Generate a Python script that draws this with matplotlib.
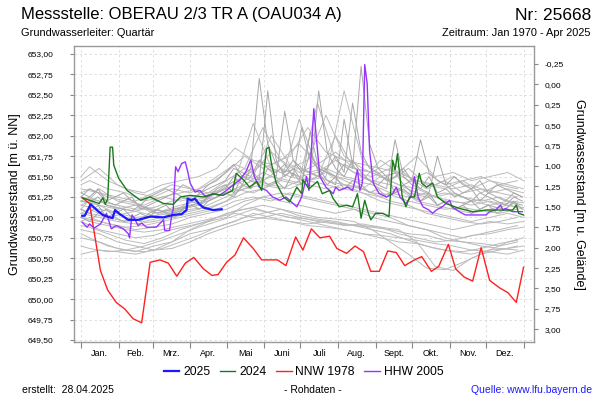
import matplotlib
matplotlib.use("Agg")
import matplotlib.pyplot as plt
import numpy as np

plt.rcParams['font.family'] = ['Liberation Sans', 'DejaVu Sans']

# ---- data (day of year, level in m above NN) ----
months = ["Jan.", "Feb.", "Mrz.", "Apr.", "Mai", "Juni", "Juli", "Aug.",
          "Sept.", "Okt.", "Nov.", "Dez."]
month_starts = [0, 31, 59, 90, 120, 151, 181, 212, 243, 273, 304, 334, 365]

ground_level = 652.63

days_2025 = [1, 3, 8, 13, 18, 26, 28, 32, 39, 47, 57, 68, 76, 83, 87, 88, 91, 94, 97, 101, 109, 116]
vals_2025 = [651.02, 651.02, 651.16, 651.09, 651.03, 650.99, 651.09, 651.04, 650.97, 650.97, 651.01,
             651.00, 651.03, 651.04, 651.09, 651.23, 651.21, 651.23, 651.17, 651.12, 651.09, 651.10]

days_2024 = [1, 7, 15, 18, 20, 22, 24, 26, 27, 31, 38, 49, 57, 68, 76, 82, 90, 101, 109, 117,
             125, 128, 134, 139, 145, 149, 153, 155, 157, 161, 167, 172, 178, 182, 183, 188, 195,
             199, 205, 208, 213, 219, 224, 228, 231, 234, 237, 239, 243, 249, 254, 257, 259, 261,
             263, 265, 268, 271, 275, 279, 281, 285, 290, 294, 301, 312, 323, 334, 345, 356, 359,
             361, 365]
vals_2024 = [651.24, 651.21, 651.17, 651.24, 651.16, 651.23, 651.86, 651.86, 651.64, 651.48,
             651.33, 651.21, 651.25, 651.17, 651.16, 651.25, 651.27, 651.25, 651.29, 651.27,
             651.33, 651.54, 651.46, 651.37, 651.44, 651.33, 651.84, 651.86, 651.66, 651.42,
             651.25, 651.19, 651.37, 651.29, 651.46, 651.35, 651.44, 651.29, 651.33, 651.23,
             651.13, 651.15, 651.13, 651.29, 650.99, 651.21, 651.05, 650.97, 651.05, 651.05,
             651.01, 651.70, 651.58, 651.78, 651.50, 651.25, 651.13, 651.25, 651.25, 651.54,
             651.42, 651.37, 651.42, 651.25, 651.17, 651.11, 651.07, 651.09, 651.09, 651.09,
             651.15, 651.05, 651.03]

days_nnw = [1, 7, 16, 22, 29, 36, 43, 50, 57, 65, 72, 79, 86, 93, 101, 108, 113, 120, 127, 134,
            142, 149, 162, 169, 177, 183, 190, 197, 205, 211, 219, 226, 233, 239, 246, 253, 260,
            267, 275, 281, 289, 295, 303, 309, 316, 323, 330, 337, 345, 352, 359, 365]
vals_nnw = [651.24, 651.17, 650.35, 650.11, 649.96, 649.88, 649.76, 649.71, 650.45, 650.48,
            650.44, 650.28, 650.44, 650.51, 650.37, 650.29, 650.30, 650.45, 650.54, 650.75,
            650.62, 650.48, 650.48, 650.41, 650.76, 650.60, 650.86, 650.75, 650.77, 650.62,
            650.56, 650.65, 650.58, 650.34, 650.34, 650.59, 650.57, 650.41, 650.48, 650.52,
            650.34, 650.40, 650.67, 650.37, 650.27, 650.22, 650.63, 650.23, 650.14, 650.08,
            649.96, 650.39]

days_hhw = [1, 5, 7, 11, 16, 21, 25, 29, 35, 39, 40, 42, 44, 47, 50, 54, 62, 68, 69, 73, 75, 76,
            78, 80, 83, 86, 87, 88, 90, 94, 98, 103, 109, 114, 120, 125, 131, 136, 140, 143, 147,
            153, 158, 164, 169, 178, 182, 186, 188, 192, 194, 197, 202, 208, 210, 213, 220, 224,
            228, 230, 232, 234, 236, 238, 241, 246, 252, 257, 260, 263, 268, 272, 275, 278, 282,
            287, 290, 293, 298, 304, 306, 312, 317, 334, 337, 342, 346, 348, 350, 356, 364]
vals_hhw = [650.94, 650.88, 650.92, 650.87, 650.92, 651.05, 650.86, 650.90, 650.86, 650.80,
            650.75, 651.03, 650.99, 650.90, 650.93, 650.88, 650.88, 650.97, 650.84, 650.84,
            651.05, 651.09, 651.62, 651.56, 651.66, 651.68, 651.62, 651.56, 651.42, 651.31,
            651.33, 651.25, 651.29, 651.27, 651.33, 651.39, 651.46, 651.56, 651.70, 651.50,
            651.37, 651.33, 651.25, 651.21, 651.25, 651.13, 651.25, 651.50, 651.33, 652.33,
            651.99, 651.50, 651.37, 651.29, 651.37, 651.33, 651.37, 651.33, 651.58, 651.33,
            651.42, 652.87, 652.64, 651.82, 651.42, 651.29, 651.25, 651.29, 651.37, 651.25,
            651.17, 651.25, 651.50, 651.25, 651.13, 651.09, 651.05, 651.09, 651.13, 651.21,
            651.13, 651.07, 651.03, 651.03, 651.07, 651.09, 651.15, 651.09, 651.11, 651.07,
            651.07]

# older years, sampled roughly every 15 days
gray_days_coarse = [0, 15, 30, 45, 60, 75, 90, 105, 120, 135, 150, 165, 180, 195, 210, 225,
                    240, 255, 270, 285, 300, 315, 330, 345, 360]
gray_coarse = [
    [651.15, 651.10, 651.05, 651.00, 651.02, 651.05, 651.10, 651.12, 651.20, 651.30, 651.35, 651.45, 651.40,
     651.50, 651.42, 651.38, 651.30, 651.28, 651.20, 651.15, 651.10, 651.12, 651.08, 651.05, 651.10],
    [650.75, 650.70, 650.62, 650.58, 650.65, 650.70, 650.80, 650.85, 650.92, 651.00, 651.05, 651.10, 651.02,
     650.98, 650.95, 650.90, 650.85, 650.80, 650.72, 650.65, 650.60, 650.58, 650.62, 650.68, 650.72],
    [651.45, 651.60, 651.40, 651.30, 651.25, 651.35, 651.30, 651.40, 651.55, 651.75, 651.60, 651.70, 651.90,
     651.65, 651.80, 651.60, 651.55, 651.45, 651.60, 651.40, 651.35, 651.45, 651.30, 651.40, 651.35],
    [650.95, 650.85, 650.80, 650.75, 650.78, 650.85, 650.90, 650.95, 651.05, 651.10, 651.15, 651.10, 651.05,
     651.00, 650.98, 650.95, 650.85, 650.70, 650.55, 650.38, 650.36, 650.45, 650.55, 650.60, 650.65],
    [651.25, 651.20, 651.15, 651.10, 651.12, 651.20, 651.25, 651.30, 651.45, 651.60, 652.10, 651.70, 651.55,
     651.65, 651.50, 651.45, 651.40, 651.30, 651.25, 651.30, 651.20, 651.18, 651.22, 651.15, 651.20],
    [650.55, 650.60, 650.58, 650.55, 650.60, 650.62, 650.70, 650.80, 650.88, 650.95, 651.00, 651.05, 651.00,
     650.95, 650.92, 650.90, 650.88, 650.85, 650.80, 650.78, 650.72, 650.70, 650.68, 650.65, 650.70],
    [651.05, 651.00, 650.95, 650.92, 650.95, 651.00, 651.05, 651.10, 651.20, 651.40, 651.55, 651.45, 652.20,
     651.60, 651.50, 651.40, 651.30, 651.20, 651.15, 651.05, 651.00, 650.95, 650.92, 650.95, 651.00],
    [651.35, 651.30, 651.25, 651.20, 651.30, 651.40, 651.35, 651.30, 651.35, 651.50, 651.45, 651.60, 651.50,
     651.55, 651.70, 651.55, 651.50, 651.60, 651.45, 651.55, 651.40, 651.45, 651.50, 651.40, 651.45],
    [650.85, 650.80, 650.70, 650.65, 650.60, 650.70, 650.85, 650.95, 651.00, 651.15, 651.25, 651.20, 651.15,
     651.10, 651.05, 651.10, 651.00, 650.95, 650.90, 650.85, 650.75, 650.70, 650.65, 650.62, 650.60],
    [651.20, 651.15, 651.10, 651.15, 651.05, 651.10, 651.15, 651.20, 651.30, 651.35, 651.40, 651.35, 651.45,
     652.40, 651.70, 651.55, 651.45, 651.40, 651.30, 651.25, 651.30, 651.25, 651.20, 651.25, 651.15],
    [651.00, 650.95, 650.90, 650.85, 650.88, 650.92, 651.00, 651.05, 651.10, 651.20, 651.25, 651.30, 651.25,
     651.20, 651.15, 651.10, 651.05, 651.00, 650.90, 650.85, 650.80, 650.75, 650.80, 650.85, 650.90],
    [651.10, 651.35, 651.20, 651.15, 651.10, 651.05, 651.20, 651.25, 651.40, 651.50, 651.65, 651.55, 651.60,
     651.50, 652.00, 651.60, 651.55, 651.70, 651.50, 651.35, 651.45, 651.30, 651.35, 651.30, 651.25],
]

# further old years, sampled on other days
gray_days_offset = [0, 7, 22, 37, 52, 67, 82, 97, 112, 127, 142, 157, 172, 187, 202, 217, 232,
                    247, 262, 277, 292, 307, 322, 337, 352, 365]
gray_offset = [
    [650.90, 650.88, 650.80, 650.72, 650.68, 650.75, 650.85, 650.92, 651.00, 651.08, 651.12, 651.05, 651.00,
     650.98, 650.95, 650.90, 650.92, 650.88, 650.80, 650.75, 650.70, 650.72, 650.78, 650.80, 650.85, 650.88],
    [651.30, 651.35, 651.25, 651.20, 651.15, 651.25, 651.30, 651.35, 651.50, 651.65, 651.55, 651.80, 651.60,
     651.70, 652.25, 651.75, 651.60, 651.50, 651.55, 651.45, 651.40, 651.35, 651.40, 651.30, 651.35, 651.30],
    [650.65, 650.62, 650.58, 650.60, 650.65, 650.72, 650.80, 650.88, 650.95, 651.02, 651.10, 651.05, 651.00,
     650.95, 650.90, 650.85, 650.80, 650.75, 650.70, 650.68, 650.62, 650.58, 650.55, 650.60, 650.62, 650.65],
    [651.10, 651.05, 651.00, 651.05, 651.10, 651.08, 651.15, 651.20, 651.25, 651.35, 651.45, 651.40, 651.55,
     651.45, 651.50, 652.55, 651.70, 651.50, 651.40, 651.30, 651.25, 651.20, 651.15, 651.20, 651.15, 651.12],
    [651.40, 651.45, 651.35, 651.30, 651.20, 651.25, 651.20, 651.25, 651.30, 651.40, 651.50, 652.00, 651.65,
     651.55, 651.60, 651.50, 651.45, 651.70, 651.55, 651.45, 651.40, 651.50, 651.35, 651.45, 651.40, 651.35],
    [651.00, 650.95, 650.90, 650.85, 650.82, 650.85, 650.90, 650.95, 651.00, 651.05, 651.00, 650.98, 650.95,
     650.92, 650.95, 650.92, 650.90, 650.88, 650.85, 650.70, 650.40, 650.35, 650.50, 650.60, 650.70, 650.75],
    [651.20, 651.25, 651.15, 651.10, 651.05, 651.00, 651.05, 651.10, 651.20, 651.30, 651.40, 651.50, 651.45,
     651.40, 651.35, 651.40, 651.30, 651.25, 651.35, 651.20, 651.15, 651.10, 651.05, 651.10, 651.15, 651.10],
    [651.50, 651.62, 651.45, 651.35, 651.30, 651.40, 651.45, 651.50, 651.60, 651.85, 651.70, 651.65, 651.75,
     652.10, 651.80, 651.70, 651.65, 651.60, 651.55, 651.75, 651.50, 651.55, 651.45, 651.50, 651.55, 651.45],
    [650.80, 650.75, 650.65, 650.60, 650.58, 650.62, 650.70, 650.78, 650.88, 650.95, 651.05, 651.00, 650.95,
     650.90, 650.88, 650.85, 650.80, 650.78, 650.75, 650.72, 650.68, 650.65, 650.60, 650.58, 650.55, 650.60],
    [651.05, 651.10, 651.00, 650.95, 650.98, 651.05, 651.10, 651.15, 651.25, 651.35, 651.30, 651.40, 651.35,
     651.45, 651.40, 651.35, 651.30, 651.20, 651.15, 651.10, 651.05, 651.00, 650.95, 651.00, 651.05, 651.00],
    [651.15, 651.20, 651.10, 651.00, 650.95, 651.00, 651.10, 651.15, 651.30, 651.45, 652.15, 651.60, 651.50,
     651.45, 651.55, 651.40, 651.35, 651.50, 651.40, 651.35, 651.25, 651.30, 651.20, 651.15, 651.20, 651.18],
    [650.95, 651.00, 650.92, 650.88, 650.90, 650.95, 651.00, 651.05, 651.10, 651.20, 651.25, 651.20, 651.30,
     651.25, 651.20, 651.15, 651.10, 651.05, 651.00, 650.95, 650.90, 650.85, 650.90, 650.95, 650.92, 650.95],
]

# more recent years, weekly values
gray_days_weekly = list(range(0, 365, 7))
gray_weekly = [
    [651.20, 651.18, 651.25, 651.15, 651.12, 651.10, 651.08, 651.15, 651.10, 651.05, 651.08, 651.10, 651.12,
     651.15, 651.18, 651.25, 651.30,
     651.35, 651.50, 651.40, 651.60, 651.45, 652.55, 651.70, 651.50, 651.60, 651.45, 651.80, 651.55, 651.40,
     651.50, 651.35, 651.45, 651.40, 651.30,
     651.35, 651.25, 651.30, 651.40, 651.30, 651.20, 651.25, 651.15, 651.20, 651.10, 651.15, 651.20, 651.10,
     651.15, 651.12, 651.10, 651.18, 651.15],
    [651.30, 651.25, 651.35, 651.20, 651.15, 651.20, 651.25, 651.10, 651.15, 651.20, 651.25, 651.30, 651.25,
     651.20, 651.30, 651.35, 651.40,
     651.45, 651.60, 651.55, 651.50, 651.70, 651.60, 651.55, 651.65, 651.50, 652.10, 651.70, 651.60, 651.55,
     651.50, 651.65, 651.60, 652.85, 651.90,
     651.60, 651.50, 651.55, 651.40, 651.45, 651.35, 651.50, 651.30, 651.35, 651.25, 651.30, 651.35, 651.20,
     651.30, 651.25, 651.20, 651.30, 651.25],
    [651.10, 651.05, 651.15, 651.00, 651.05, 651.10, 651.00, 650.95, 651.05, 651.10, 651.15, 651.05, 651.10,
     651.20, 651.15, 651.25, 651.35,
     651.40, 651.30, 651.50, 651.45, 651.40, 651.60, 651.50, 652.30, 651.70, 651.55, 651.45, 652.55, 651.80,
     651.60, 651.50, 651.70, 651.55, 651.45,
     651.40, 651.50, 651.30, 651.35, 651.25, 651.20, 651.30, 651.15, 651.20, 651.10, 651.15, 651.05, 651.10,
     651.15, 651.05, 651.10, 651.20, 651.10],
    [651.25, 651.35, 651.30, 651.20, 651.25, 651.30, 651.20, 651.15, 651.25, 651.30, 651.35, 651.30, 651.40,
     651.35, 651.30, 651.40, 651.45,
     651.55, 651.65, 651.50, 651.60, 652.70, 651.90, 651.65, 651.55, 651.70, 651.60, 651.55, 651.50, 651.60,
     651.75, 651.55, 652.40, 651.80, 651.60,
     651.55, 651.45, 651.50, 651.60, 651.45, 651.95, 651.55, 651.45, 651.40, 651.50, 651.40, 651.35, 651.45,
     651.30, 651.40, 651.35, 651.30, 651.25],
    [651.00, 650.95, 651.05, 651.10, 651.00, 650.95, 651.00, 651.05, 651.00, 651.10, 651.05, 651.00, 651.10,
     651.15, 651.10, 651.20, 651.25,
     651.30, 651.25, 651.40, 651.35, 651.50, 651.40, 651.45, 651.35, 651.55, 651.40, 652.05, 651.60, 651.45,
     651.40, 652.20, 651.65, 651.50, 651.45,
     651.40, 651.35, 651.95, 651.50, 651.40, 651.35, 651.30, 651.75, 651.40, 651.30, 651.25, 651.20, 651.30,
     651.25, 651.20, 651.15, 651.25, 651.20],
]

# ---- figure ----
fig = plt.figure(figsize=(6, 4), dpi=100)
ax = fig.add_axes([74 / 600, 1 - 342 / 400, (533.5 - 74) / 600, (342 - 46) / 400])

for vals in gray_coarse:
    ax.plot(gray_days_coarse, vals, color="#b8b8b8", lw=0.7, zorder=2)
for vals in gray_offset:
    ax.plot(gray_days_offset, vals, color="#bcbcbc", lw=0.7, zorder=2)
for vals in gray_weekly:
    ax.plot(gray_days_weekly, vals, color="#a8a8a8", lw=0.7, zorder=2)

ax.plot(days_nnw, vals_nnw, color="#ff2020", lw=1.0, zorder=3, label="NNW 1978")
ax.plot(days_hhw, vals_hhw, color="#9933ff", lw=1.0, zorder=4, label="HHW 2005")
ax.plot(days_2024, vals_2024, color="#1a7a1a", lw=1.0, zorder=5, label="2024")
ax.plot(days_2025, vals_2025, color="#1a1aff", lw=1.6, zorder=6, label="2025")

ax.set_xlim(-5.8, 373.2)
ax.set_ylim(649.475, 653.098)

yticks = np.arange(649.5, 653.01, 0.25)
ax.set_yticks(yticks)
ax.set_yticklabels([f"{v:.2f}".replace(".", ",") for v in yticks])
ax.set_xticks(month_starts)
ax.set_xticklabels([])
mids = [(a + b) / 2 for a, b in zip(month_starts[:-1], month_starts[1:])]
ax.set_xticks(mids, minor=True)
ax.set_xticklabels(months, minor=True)

ax.tick_params(axis="x", which="major", length=4, color="#888888", direction="out")
ax.tick_params(axis="x", which="minor", length=0, pad=5, labelsize=6.5)
ax.tick_params(axis="y", length=3, color="#888888", pad=12, labelsize=6.0)
ax.grid(True, which="major", color="#d9d9d9", lw=0.6, linestyle=(0, (3, 3)))
for s in ax.spines.values():
    s.set_color("#999999")
    s.set_linewidth(1.0)
ax.set_ylabel("Grundwasserstand [m ü. NN]", fontsize=9)
ax.yaxis.set_label_coords((21 - 74) / 459.5, 0.5)

ax2 = ax.twinx()
ax2.set_ylim(ground_level - 649.475, ground_level - 653.098)
rticks = np.arange(-0.25, 3.01, 0.25)
ax2.set_yticks(rticks)
ax2.set_yticklabels([f"{v:.2f}".replace(".", ",") for v in rticks])
ax2.tick_params(axis="y", length=3, color="#888888", pad=5, labelsize=6.0)
for s in ax2.spines.values():
    s.set_visible(False)
ax2.set_ylabel("Grundwasserstand [m u. Gelände]", fontsize=9, rotation=270, va="center")
ax2.yaxis.set_label_coords((579 - 74) / 459.5, 0.5)

# legend
handles, labels = ax.get_legend_handles_labels()
order = [3, 2, 0, 1]
fig.legend([handles[i] for i in order], [labels[i] for i in order], loc="center",
           bbox_to_anchor=(303.5 / 600, 1 - 372 / 400), ncol=4, frameon=False, fontsize=8.7,
           handlelength=1.3, handletextpad=0.3, columnspacing=0.8)

# header and footer
fig.text(21 / 600, 1 - 15 / 400, "Messstelle: OBERAU 2/3 TR A (OAU034 A)", fontsize=12,
         ha="left", va="center")
fig.text(591 / 600, 1 - 15 / 400, "Nr: 25668", fontsize=12.5, ha="right", va="center")
fig.text(21 / 600, 1 - 33 / 400, "Grundwasserleiter: Quartär", fontsize=7.9, ha="left", va="center")
fig.text(591 / 600, 1 - 33 / 400, "Zeitraum: Jan 1970 - Apr 2025", fontsize=7.9, ha="right", va="center")
fig.text(22 / 600, 1 - 390 / 400, "erstellt:  28.04.2025", fontsize=7.5, ha="left", va="center")
fig.text(313 / 600, 1 - 390 / 400, "- Rohdaten -", fontsize=7.5, ha="center", va="center")
fig.text(592 / 600, 1 - 390 / 400, "Quelle: www.lfu.bayern.de", fontsize=7.5, ha="right", va="center",
         color="#1a1aff")

fig.savefig("out.png", dpi=100)
